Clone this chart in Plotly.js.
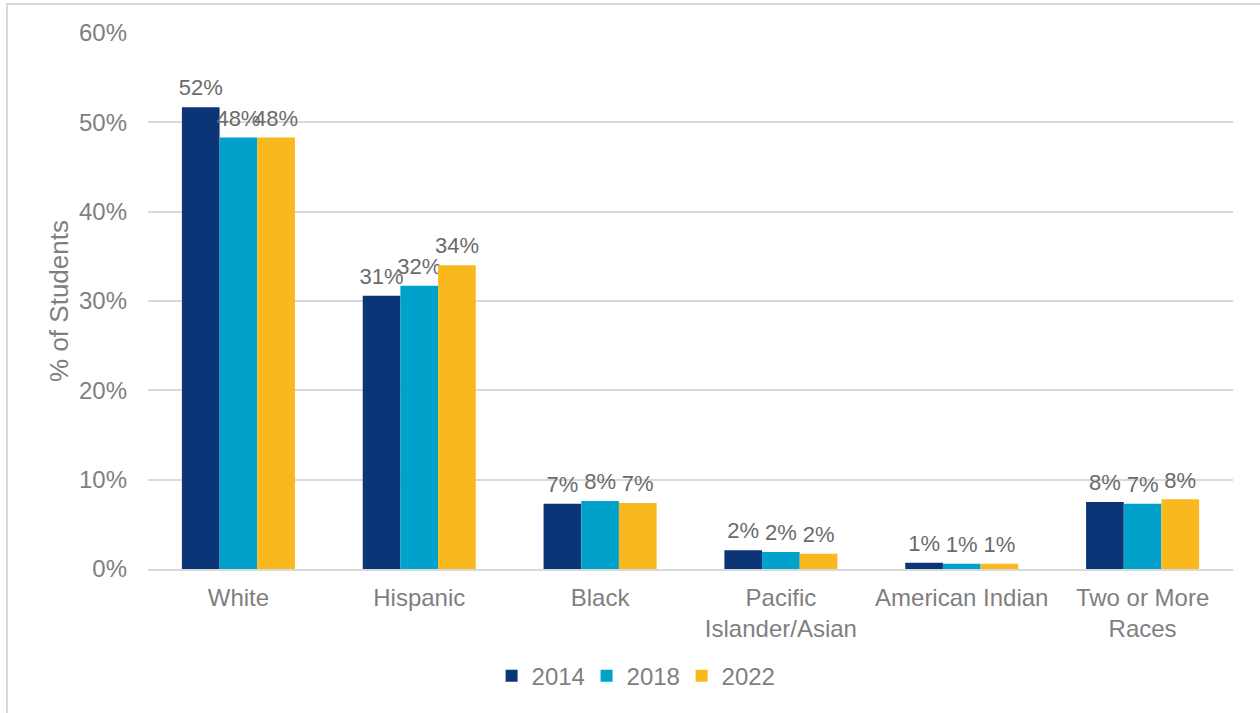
<!DOCTYPE html>
<html>
<head>
<meta charset="utf-8">
<script src="https://cdn.plot.ly/plotly-3.0.1.min.js"></script>
<style>
  html, body { margin: 0; padding: 0; background: #fff; }
  #chart { position: absolute; left: 0; top: 0; width: 1260px; height: 713px; }
  #frame { position: absolute; left: 6px; top: 3px; width: 1300px; height: 800px;
           border: 2px solid #d9d9d9; pointer-events: none; }
</style>
</head>
<body>
<div id="chart"></div>
<div id="frame"></div>
<script>
const categories = ['White', 'Hispanic', 'Black', 'Pacific<br>Islander/Asian', 'American Indian', 'Two or More<br>Races'];
const years = ['2014', '2018', '2022'];
const values2014 = [0.517, 0.306, 0.073, 0.021, 0.007, 0.075];
const values2018 = [0.483, 0.317, 0.076, 0.019, 0.006, 0.073];
const values2022 = [0.483, 0.340, 0.074, 0.017, 0.006, 0.078];
const colors = ['#0B3577', '#00A1CB', '#F9B81E'];

const series = [values2014, values2018, values2022];

const traces = series.map((vals, i) => ({
    x: categories,
    y: vals,
    name: years[i],
    type: 'bar',
    marker: { color: colors[i] },
    // small base font + empty second line lifts the label a little off the bar
    texttemplate: '<span style="font-size:22px">%{y:.0%}</span><br> ',
    textposition: 'outside',
    constraintext: 'none',
    cliponaxis: false,
    textfont: { family: 'Liberation Sans, Arial, sans-serif', size: 6, color: '#6b6b6b' },
    hoverinfo: 'skip',
}));

const layout = {
    width: 1260,
    height: 713,
    margin: { l: 148, r: 27, t: 33, b: 144, autoexpand: false },
    paper_bgcolor: '#fff',
    plot_bgcolor: '#fff',
    font: { family: 'Liberation Sans, Arial, sans-serif', size: 24, color: '#7f7f7f' },
    barmode: 'group',
    bargap: 0.375,
    bargroupgap: 0,
    showlegend: true,
    legend: {
        orientation: 'h',
        x: 0.448, xanchor: 'center',
        y: -0.2, yanchor: 'middle',
        font: { size: 24, color: '#7f7f7f' },
        itemwidth: 30,
        entrywidth: 50,
        traceorder: 'normal',
    },
    xaxis: {
        tickfont: { size: 24, color: '#7f7f7f' },
        showline: true,
        linecolor: '#d9d9d9',
        linewidth: 2,
        ticks: '',
        ticklabelstandoff: 6,
        fixedrange: true,
    },
    yaxis: {
        range: [0, 0.6],
        dtick: 0.1,
        tickformat: '.0%',
        tickfont: { size: 24, color: '#7f7f7f' },
        gridcolor: '#d9d9d9',
        gridwidth: 2,
        zeroline: false,
        ticks: '',
        ticklabelstandoff: 20,
        title: { text: '% of Students', font: { size: 26, color: '#7f7f7f' }, standoff: 2 },
        fixedrange: true,
    },
};

Plotly.newPlot('chart', traces, layout, { displayModeBar: false, staticPlot: true });
</script>
</body>
</html>
